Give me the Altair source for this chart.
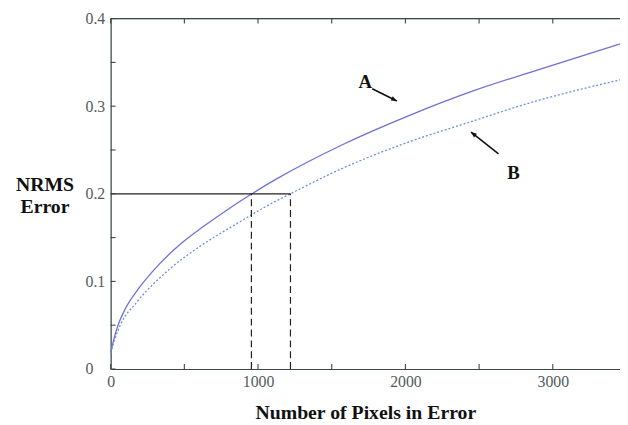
import altair as alt
import pandas as pd

# Curve A (solid)
a_x = [0, 20, 50, 100, 177, 288, 490, 624, 802, 958, 1126, 1572, 2020, 2469, 2889, 3456]
a_y = [0.018, 0.033, 0.050, 0.069, 0.089, 0.112, 0.145, 0.162, 0.183, 0.200, 0.217, 0.256, 0.289, 0.318, 0.341, 0.371]
# Curve B (dotted)
b_x = [0, 30, 65, 176, 400, 624, 846, 1070, 1220, 1572, 2020, 2420, 2889, 3456]
b_y = [0.018, 0.035, 0.050, 0.076, 0.114, 0.142, 0.165, 0.187, 0.200, 0.229, 0.259, 0.281, 0.306, 0.330]

x_ticks = [0, 500, 1000, 1500, 2000, 2500, 3000]
x_labels = [0, 1000, 2000, 3000]
y_ticks = [0, 0.05, 0.1, 0.15, 0.2, 0.25, 0.3, 0.35, 0.4]
y_labels = [0, 0.1, 0.2, 0.3, 0.4]

guide_level = 0.2
guide_x = [955, 1220]

labels_txt = ["A", "B"]
labels_x = [1728, 2733]
labels_y = [0.327, 0.224]
arrow_x1 = [1775, 2632]
arrow_y1 = [0.320, 0.2456]
arrow_x2 = [1942, 2445]
arrow_y2 = [0.306, 0.2704]
arrow_angle = [115.6, 308.2]

W, H = 516, 355
X_MAX, Y_MAX = 3456, 0.4
TICK_LEN = 5  # px
SERIF = "Liberation Serif"
AXC = "#3b4848"
LBC = "#525c5e"

xs = alt.Scale(domain=[0, X_MAX], nice=False, zero=False)
ys = alt.Scale(domain=[0, Y_MAX], nice=False)

df_a = pd.DataFrame({"x": a_x, "y": a_y})
df_b = pd.DataFrame({"x": b_x, "y": b_y})

x_axis = alt.Axis(values=x_labels, format="d", ticks=False, grid=False, labelFlush=False,
                  labelFont=SERIF, labelFontSize=16, labelColor=LBC, labelPadding=5,
                  domainColor=AXC, domainWidth=1.2,
                  title="Number of Pixels in Error", titleFont=SERIF, titleFontSize=20,
                  titleFontWeight="bold", titleColor="#111", titleX=258, titleY=50,
                  titleBaseline="alphabetic", titleAnchor="start", titleAlign="center")
y_axis = alt.Axis(values=y_labels, format="~g", ticks=False, grid=False, labelFlush=False,
                  labelFont=SERIF, labelFontSize=16, labelColor=LBC, labelPadding=26,
                  labelAlign="left", domainColor=AXC, domainWidth=1.2,
                  title=["NRMS", "Error"], titleFont=SERIF, titleFontSize=20,
                  titleFontWeight="bold", titleColor="#111", titleAngle=0,
                  titleX=-67, titleY=174, titleAlign="center", titleBaseline="alphabetic",
                  titleLineHeight=22, titleAnchor="start")

line_a = alt.Chart(df_a).mark_line(color="#6f6fd6", strokeWidth=1.3, interpolate="monotone").encode(
    x=alt.X("x:Q", scale=xs, axis=x_axis),
    y=alt.Y("y:Q", scale=ys, axis=y_axis),
)
line_b = alt.Chart(df_b).mark_line(color="#6a8ee0", strokeWidth=1.3, strokeDash=[2, 2],
                                   interpolate="monotone").encode(
    x=alt.X("x:Q", scale=xs), y=alt.Y("y:Q", scale=ys))

# guide lines
hline = alt.Chart(pd.DataFrame({"x": [0], "x2": [max(guide_x)], "y": [guide_level]})).mark_rule(
    color="#222", strokeWidth=1.2).encode(x=alt.X("x:Q", scale=xs), x2="x2:Q", y=alt.Y("y:Q", scale=ys))
vlines = alt.Chart(pd.DataFrame({"x": guide_x, "y": [0] * len(guide_x), "y2": [guide_level] * len(guide_x)})).mark_rule(
    color="#222", strokeWidth=1.2, strokeDash=[7, 4]).encode(
    x=alt.X("x:Q", scale=xs), y=alt.Y("y:Q", scale=ys), y2="y2:Q")

# frame top line
top = alt.Chart(pd.DataFrame({"x": [0], "x2": [X_MAX], "y": [Y_MAX]})).mark_rule(
    color=AXC, strokeWidth=1.2).encode(x=alt.X("x:Q", scale=xs), x2="x2:Q", y=alt.Y("y:Q", scale=ys))

# inward tick marks (tick length converted to data units)
dy = Y_MAX * TICK_LEN / H
dx = X_MAX * TICK_LEN / W
tdf_x = pd.DataFrame({"t": x_ticks, "b0": 0.0, "b1": dy, "t0": Y_MAX, "t1": Y_MAX - dy})
tdf_y = pd.DataFrame({"t": y_ticks, "l0": 0.0, "l1": dx})
ticks_bottom = alt.Chart(tdf_x).mark_rule(color=AXC, strokeWidth=1.1).encode(
    x=alt.X("t:Q", scale=xs), y=alt.Y("b0:Q", scale=ys), y2="b1:Q")
ticks_top = alt.Chart(tdf_x).mark_rule(color=AXC, strokeWidth=1.1).encode(
    x=alt.X("t:Q", scale=xs), y=alt.Y("t0:Q", scale=ys), y2="t1:Q")
ticks_left = alt.Chart(tdf_y).mark_rule(color=AXC, strokeWidth=1.1).encode(
    y=alt.Y("t:Q", scale=ys), x=alt.X("l0:Q", scale=xs), x2="l1:Q")

ann = pd.DataFrame({"txt": labels_txt, "x": labels_x, "y": labels_y,
                    "x1": arrow_x1, "y1": arrow_y1, "x2": arrow_x2, "y2": arrow_y2,
                    "ang": arrow_angle})
texts = alt.Chart(ann).mark_text(font=SERIF, fontSize=19, fontWeight="bold", color="#111",
                                 baseline="middle", align="center").encode(
    x=alt.X("x:Q", scale=xs), y=alt.Y("y:Q", scale=ys), text="txt:N")
shafts = alt.Chart(ann).mark_rule(color="#111", strokeWidth=1.6).encode(
    x=alt.X("x1:Q", scale=xs), y=alt.Y("y1:Q", scale=ys), x2="x2:Q", y2="y2:Q")
heads = alt.Chart(ann).mark_point(shape="M0,0L-0.45,1.1L0.45,1.1Z", filled=True, opacity=1,
                                  color="#111", size=110).encode(
    x=alt.X("x2:Q", scale=xs), y=alt.Y("y2:Q", scale=ys), angle=alt.Angle("ang:Q", scale=None))

chart = alt.layer(line_a, line_b, hline, vlines, top, ticks_bottom, ticks_top, ticks_left,
                  shafts, heads, texts).properties(
    width=W, height=H, autosize="none",
    padding={"left": 104, "top": 8, "right": 0, "bottom": 54},
).configure_view(stroke=None).configure(background="white")

chart.save("out.html", embed_options={"renderer": "svg", "actions": False})
